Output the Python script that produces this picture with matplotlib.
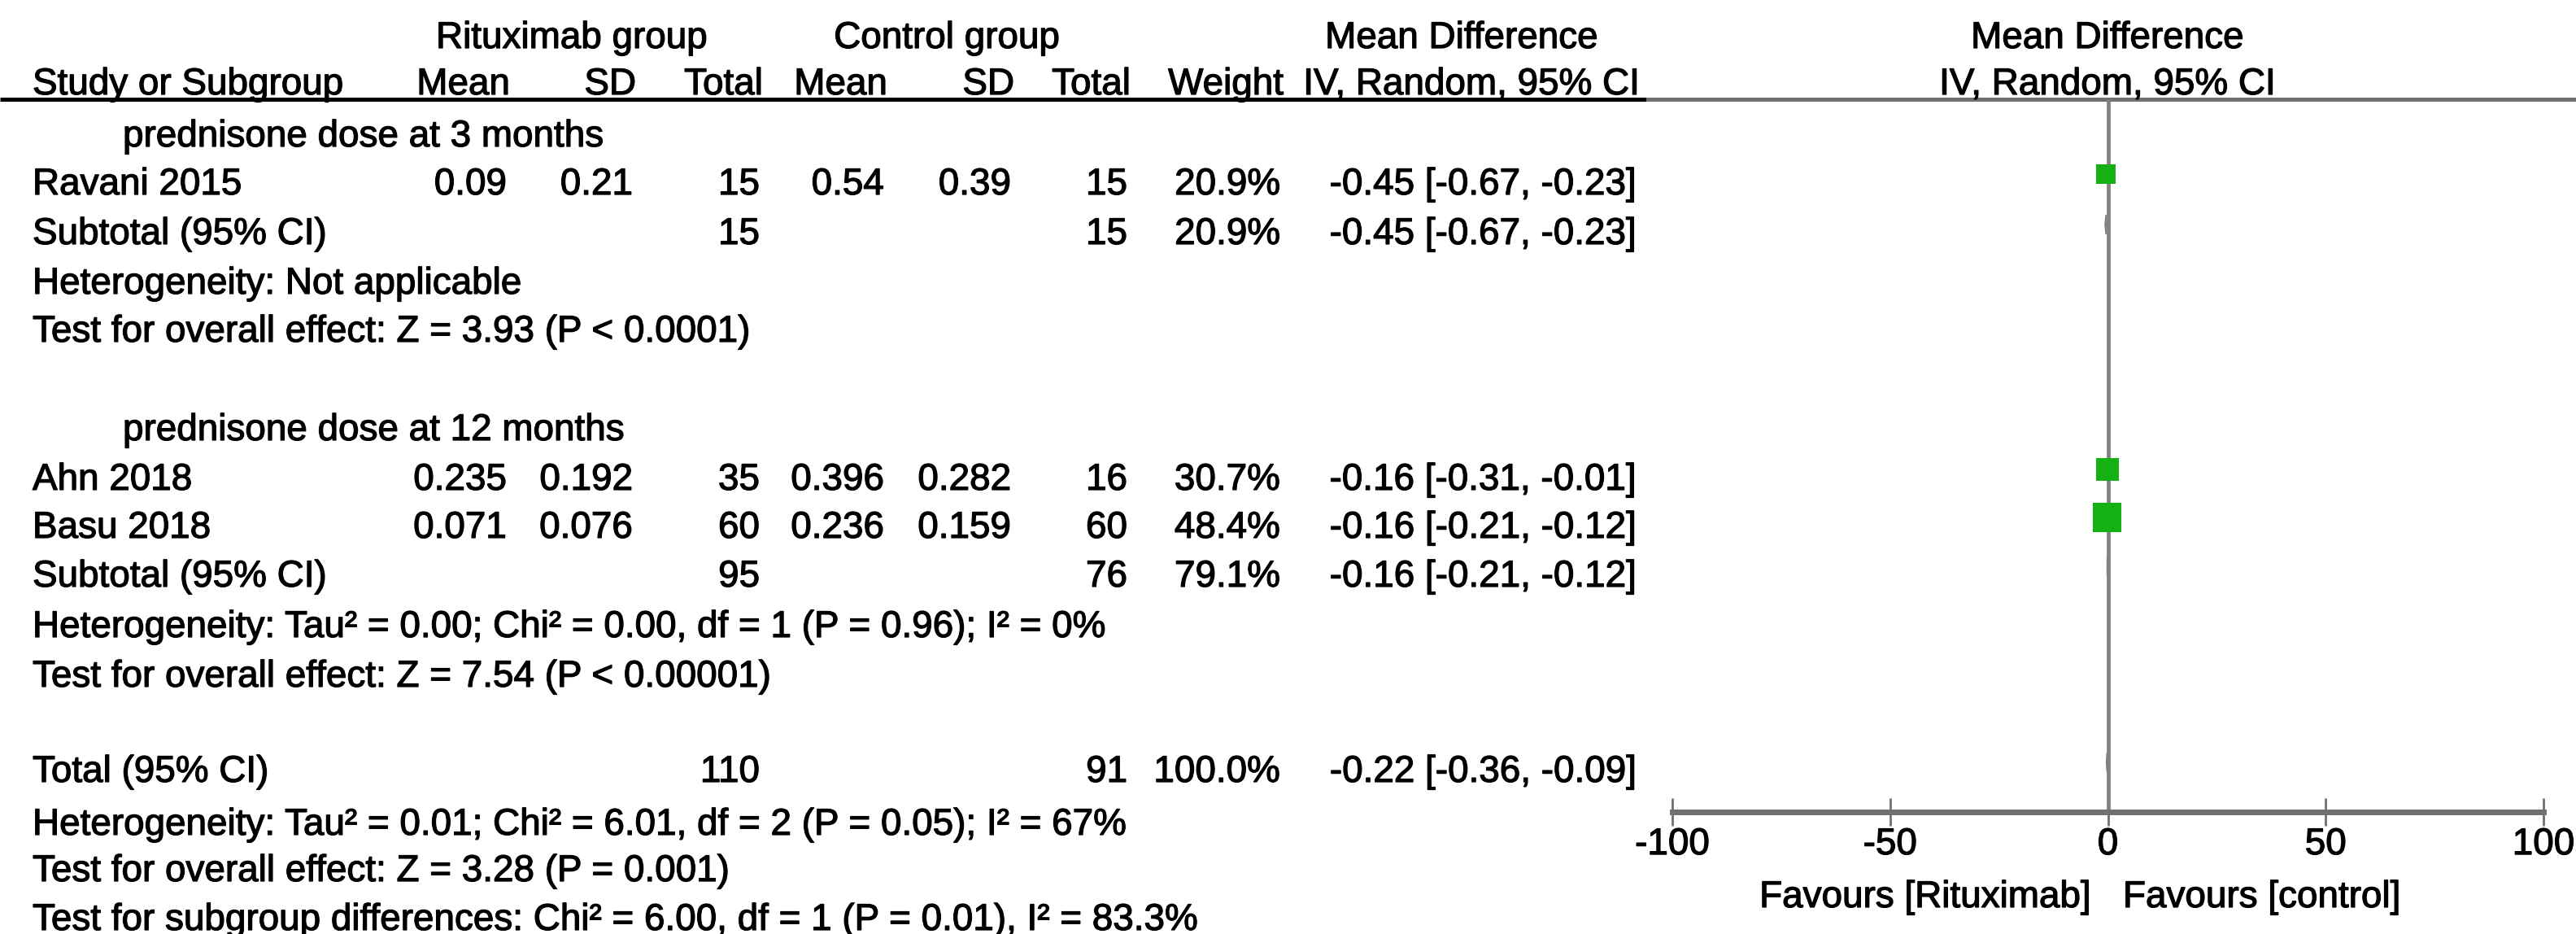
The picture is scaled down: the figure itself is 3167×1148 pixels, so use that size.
import numpy as np
import matplotlib.pyplot as plt
import matplotlib.patheffects as pe

plt.rcParams['font.family'] = ['Liberation Sans', 'DejaVu Sans']
plt.rcParams['axes.unicode_minus'] = False

# data
studies = ["Ravani 2015", "Ahn 2018", "Basu 2018"]
rtx_mean = ["0.09", "0.235", "0.071"]
rtx_sd = ["0.21", "0.192", "0.076"]
rtx_n = [15, 35, 60]
ctl_mean = ["0.54", "0.396", "0.236"]
ctl_sd = ["0.39", "0.282", "0.159"]
ctl_n = [15, 16, 60]
weight = [20.9, 30.7, 48.4]
md = [-0.45, -0.16, -0.16]
ci_lo = [-0.67, -0.31, -0.21]
ci_hi = [-0.23, -0.01, -0.12]

groups = ["prednisone dose at 3 months", "prednisone dose at 12 months"]
sub_rtx_n = [15, 95]
sub_ctl_n = [15, 76]
sub_weight = [20.9, 79.1]
sub_md = [-0.45, -0.16]
sub_lo = [-0.67, -0.21]
sub_hi = [-0.23, -0.12]
sub_het = ["Heterogeneity: Not applicable",
           "Heterogeneity: Tau² = 0.00; Chi² = 0.00, df = 1 (P = 0.96); I² = 0%"]
sub_effect = ["Test for overall effect: Z = 3.93 (P < 0.0001)",
              "Test for overall effect: Z = 7.54 (P < 0.00001)"]

tot_rtx_n, tot_ctl_n, tot_weight = 110, 91, 100.0
tot_md, tot_lo, tot_hi = -0.22, -0.36, -0.09
footer = ["Heterogeneity: Tau² = 0.01; Chi² = 6.01, df = 2 (P = 0.05); I² = 67%",
          "Test for overall effect: Z = 3.28 (P = 0.001)",
          "Test for subgroup differences: Chi² = 6.00, df = 1 (P = 0.01), I² = 83.3%"]

x_ticks = [-100, -50, 0, 50, 100]

# layout (pixels)
W, H = 3167, 1148
FS = 33
study_y = [223, 586, 645]
group_y = [164, 525]
subtotal_y = [284, 705]
het_y = [345, 767]
effect_y = [404, 828]
total_y = 945
footer_y = [1010, 1067, 1127]
cols = [623, 778, 934, 1087, 1243, 1386, 1574, 2012]
line_y = 122
axis_y = 998
plot_x0, plot_x1 = 2056, 3127

fig = plt.figure(figsize=(W / 100, H / 100), dpi=100)
tab = fig.add_axes([0, 0, 1, 1])
tab.set_xlim(0, W)
tab.set_ylim(H, 0)
tab.axis('off')

heavy = [pe.withStroke(linewidth=0.9, foreground='black')]


def put(x, y, s, ha='left'):
    tab.text(x, y + 16, s, ha=ha, va='baseline', fontsize=FS, color='black',
             path_effects=heavy)


def ci_text(m, lo, hi):
    return f"{m:.2f} [{lo:.2f}, {hi:.2f}]"


# header
put(703, 43, "Rituximab group", ha='center')
put(1164, 43, "Control group", ha='center')
put(1797, 43, "Mean Difference", ha='center')
put(2591, 43, "Mean Difference", ha='center')
put(40, 100, "Study or Subgroup")
for x, s in zip(cols, ["Mean", "SD", "Total", "Mean", "SD", "Total", "Weight",
                       "IV, Random, 95% CI"]):
    put(x + 4, 100, s, ha='right')
put(2591, 100, "IV, Random, 95% CI", ha='center')
tab.hlines(line_y, 0, 2024, color='black', lw=3.6)
tab.hlines(line_y, 2024, W, color='#707070', lw=3.6)

# subgroups
study_group = [0, 1, 1]
for g in range(2):
    put(151, group_y[g], groups[g])
    for i in range(len(studies)):
        if study_group[i] != g:
            continue
        y = study_y[i]
        put(40, y, studies[i])
        vals = [rtx_mean[i], rtx_sd[i], str(rtx_n[i]), ctl_mean[i], ctl_sd[i],
                str(ctl_n[i]), f"{weight[i]:.1f}%", ci_text(md[i], ci_lo[i], ci_hi[i])]
        for x, s in zip(cols, vals):
            put(x, y, s, ha='right')
    y = subtotal_y[g]
    put(40, y, "Subtotal (95% CI)")
    put(cols[2], y, str(sub_rtx_n[g]), ha='right')
    put(cols[5], y, str(sub_ctl_n[g]), ha='right')
    put(cols[6], y, f"{sub_weight[g]:.1f}%", ha='right')
    put(cols[7], y, ci_text(sub_md[g], sub_lo[g], sub_hi[g]), ha='right')
    put(40, het_y[g], sub_het[g])
    put(40, effect_y[g], sub_effect[g])

put(40, total_y, "Total (95% CI)")
put(cols[2], total_y, str(tot_rtx_n), ha='right')
put(cols[5], total_y, str(tot_ctl_n), ha='right')
put(cols[6], total_y, f"{tot_weight:.1f}%", ha='right')
put(cols[7], total_y, ci_text(tot_md, tot_lo, tot_hi), ha='right')
for y, s in zip(footer_y, footer):
    put(40, y, s)

put(2571, 1099, "Favours [Rituximab]", ha='right')
put(2610, 1099, "Favours [control]")

# forest panel
ax = fig.add_axes([plot_x0 / W, 0, (plot_x1 - plot_x0) / W, 1])
ax.set_xlim(-100, 100)
ax.set_ylim(H, 0)
ax.patch.set_alpha(0)
for side in ['left', 'right', 'top']:
    ax.spines[side].set_visible(False)
ax.spines['bottom'].set_position(('data', axis_y))
ax.spines['bottom'].set_color('#707070')
ax.spines['bottom'].set_linewidth(5)
ax.set_yticks([])
ax.set_xticks(x_ticks)
ax.set_xticklabels([str(t) for t in x_ticks])
ax.tick_params(axis='x', direction='inout', length=24, width=2, color='#707070',
               labelsize=FS, pad=1)
for lab in ax.get_xticklabels():
    lab.set_path_effects(heavy)

sq_y = [y - 9 for y in study_y]
ax.hlines(sq_y, ci_lo, ci_hi, color='black', lw=1, zorder=1)
side_pt = [5.1 * np.sqrt(w) * 0.72 for w in weight]
ax.scatter(md, sq_y, marker='s', s=[s ** 2 for s in side_pt], color='#14B014',
           linewidths=0, zorder=3)
# pooled estimates are narrower than the zero line at this scale
for y, m, lo, hi in zip(subtotal_y + [total_y], sub_md + [tot_md],
                        sub_lo + [tot_lo], sub_hi + [tot_hi]):
    ax.fill([lo, m, hi, m], [y - 8, y - 20, y - 8, y + 4], color='#808080', zorder=1)
ax.vlines(0, line_y, axis_y, color='#808080', lw=3.4, zorder=2)

fig.savefig("out.png", dpi=100)
